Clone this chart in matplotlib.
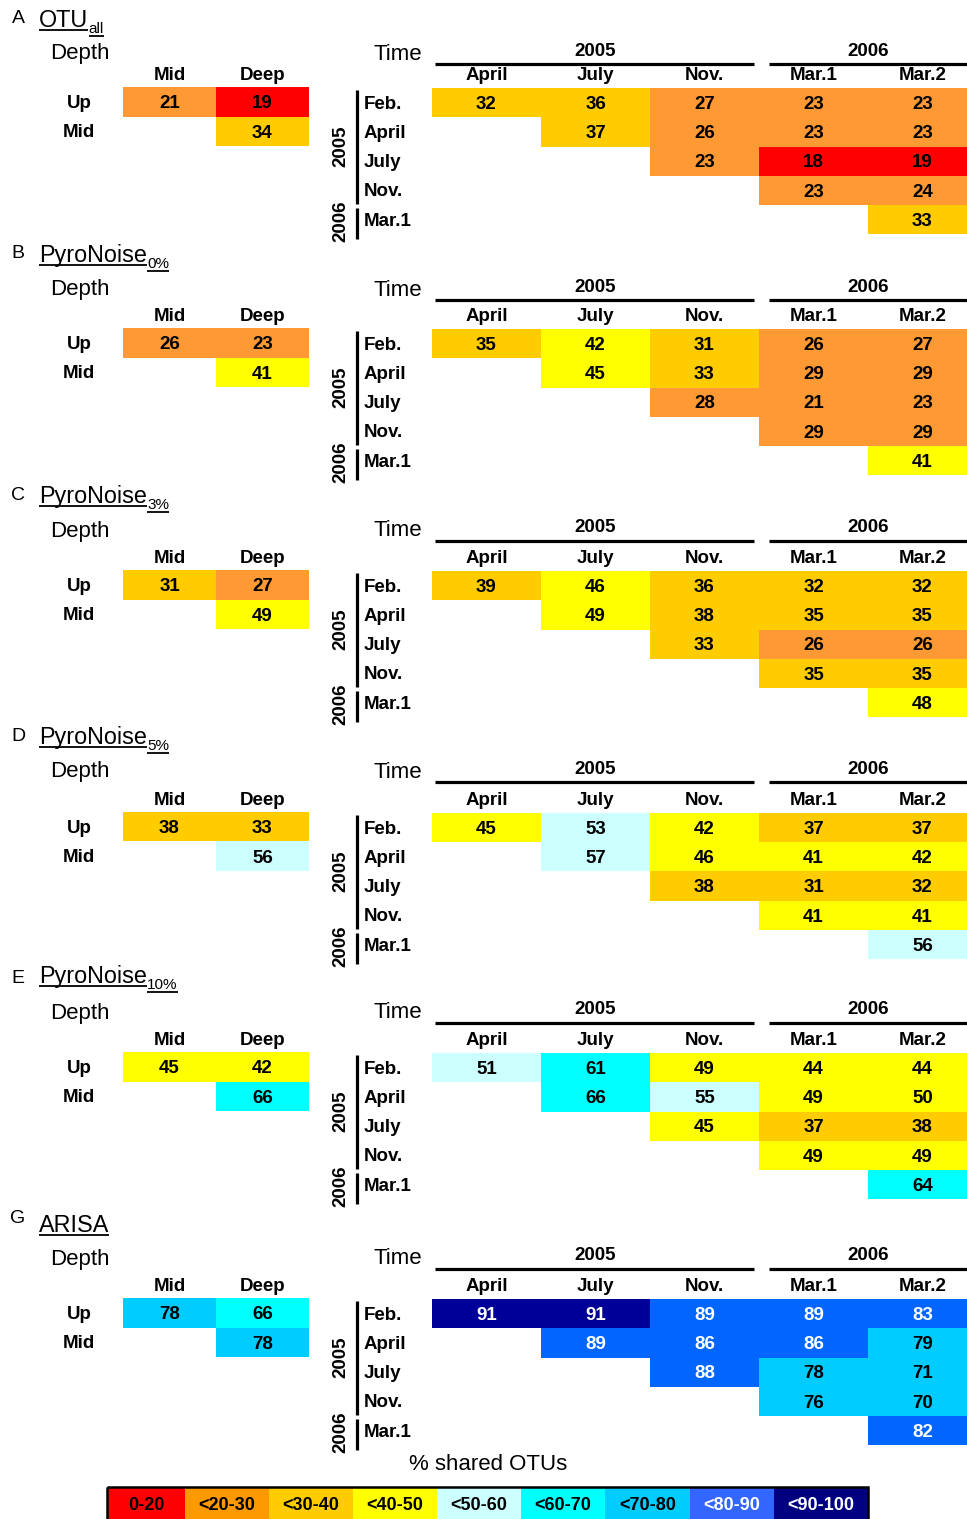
import matplotlib
matplotlib.use("Agg")
import matplotlib.pyplot as plt
from matplotlib.colors import ListedColormap, BoundaryNorm
from matplotlib.patches import Rectangle
import numpy as np

plt.rcParams['font.family'] = ['Liberation Sans', 'DejaVu Sans']

# % shared OTUs between depths (rows Up/Mid, cols Mid/Deep) and between
# sampling dates (rows Feb./April/July/Nov./Mar.1, cols April..Mar.2)
n = None
otu_all_depth = [[21, 19], [n, 34]]
otu_all_time = [[32, 36, 27, 23, 23],
                [n, 37, 26, 23, 23],
                [n, n, 23, 18, 19],
                [n, n, n, 23, 24],
                [n, n, n, n, 33]]

pn0_depth = [[26, 23], [n, 41]]
pn0_time = [[35, 42, 31, 26, 27],
            [n, 45, 33, 29, 29],
            [n, n, 28, 21, 23],
            [n, n, n, 29, 29],
            [n, n, n, n, 41]]

pn3_depth = [[31, 27], [n, 49]]
pn3_time = [[39, 46, 36, 32, 32],
            [n, 49, 38, 35, 35],
            [n, n, 33, 26, 26],
            [n, n, n, 35, 35],
            [n, n, n, n, 48]]

pn5_depth = [[38, 33], [n, 56]]
pn5_time = [[45, 53, 42, 37, 37],
            [n, 57, 46, 41, 42],
            [n, n, 38, 31, 32],
            [n, n, n, 41, 41],
            [n, n, n, n, 56]]

pn10_depth = [[45, 42], [n, 66]]
pn10_time = [[51, 61, 49, 44, 44],
             [n, 66, 55, 49, 49.6],
             [n, n, 45, 37, 38],
             [n, n, n, 49, 49],
             [n, n, n, n, 64]]

arisa_depth = [[78, 66], [n, 78]]
arisa_time = [[91, 91, 89, 89, 83],
              [n, 89, 86, 86, 79],
              [n, n, 88, 78, 71],
              [n, n, n, 76, 70],
              [n, n, n, n, 82]]

panels = [
    ("A", "OTU", "all", otu_all_depth, otu_all_time),
    ("B", "PyroNoise", "0%", pn0_depth, pn0_time),
    ("C", "PyroNoise", "3%", pn3_depth, pn3_time),
    ("D", "PyroNoise", "5%", pn5_depth, pn5_time),
    ("E", "PyroNoise", "10%", pn10_depth, pn10_time),
    ("G", "ARISA", "", arisa_depth, arisa_time),
]

depth_rows = ["Up", "Mid"]
depth_cols = ["Mid", "Deep"]
time_rows = ["Feb.", "April", "July", "Nov.", "Mar.1"]
time_cols = ["April", "July", "Nov.", "Mar.1", "Mar.2"]

bounds = [0, 20, 30, 40, 50, 60, 70, 80, 90, 100]
cell_colors = ['#ff0000', '#ff9933', '#ffcc00', '#ffff00', '#ccffff',
               '#00ffff', '#00ccff', '#0066ff', '#000099']
legend_colors = ['#ff0000', '#ff9900', '#ffcc00', '#ffff00', '#ccffff',
                 '#00ffff', '#00ccff', '#3366ff', '#000080']
legend_labels = ['0-20', '<20-30', '<30-40', '<40-50', '<50-60',
                 '<60-70', '<70-80', '<80-90', '<90-100']

cmap = ListedColormap(cell_colors)
norm = BoundaryNorm(bounds, cmap.N)

BOLD = 13.5

W, H = 967, 1519
fig = plt.figure(figsize=(W / 100, H / 100), dpi=100)
page = fig.add_axes([0, 0, 1, 1])
page.set_xlim(0, W)
page.set_ylim(H, 0)
page.axis('off')

# vertical layout of each panel (pixels from top)
title_y = [27, 262, 503, 744, 983, 1232]
letter_y = [23, 258, 500, 741, 983, 1223]
head_y = [54, 290, 531, 772, 1013, 1259]
grid_top = [88, 329, 571, 813, 1053, 1299]
ROW_T = 29.25
ROW_D = 29.5


def grid_axes(x0, x1, y0, y1, ncol, nrow):
    ax = fig.add_axes([x0 / W, 1 - y1 / H, (x1 - x0) / W, (y1 - y0) / H])
    ax.set_xlim(0, ncol)
    ax.set_ylim(nrow, 0)
    ax.axis('off')
    return ax


def draw_matrix(ax, values):
    vals = np.array(values, dtype=float)
    nr, nc = vals.shape
    ax.pcolormesh(np.arange(nc + 1), np.arange(nr + 1),
                  np.ma.masked_invalid(vals), cmap=cmap, norm=norm,
                  linewidth=0, antialiased=False)
    for r in range(nr):
        for c in range(nc):
            v = vals[r, c]
            if np.isnan(v):
                continue
            ax.text(c + 0.5, r + 0.56, f"{v:.0f}", ha='center', va='center',
                    fontsize=BOLD, fontweight='bold',
                    color='white' if v >= 80 else 'black')


renderer = fig.canvas.get_renderer()
inv = page.transData.inverted()


def underline(t, y):
    bb = t.get_window_extent(renderer=renderer)
    (x0, _), (x1, _) = inv.transform([[bb.x0, bb.y0], [bb.x1, bb.y1]])
    page.plot([x0, x1], [y, y], color='black', lw=1.3, solid_capstyle='butt')
    return x1


for i, (letter, name, sub, depth_vals, time_vals) in enumerate(panels):
    gt = grid_top[i]
    hy = head_y[i]

    # panel title
    page.text(18, letter_y[i], letter, ha='center', va='baseline', fontsize=14)
    t = page.text(39, title_y[i], name, ha='left', va='baseline', fontsize=16.8)
    x_end = underline(t, title_y[i] + 2.5)
    if sub:
        s = page.text(x_end + 0.5, title_y[i] + 6, sub, ha='left',
                      va='baseline', fontsize=11)
        underline(s, title_y[i] + 8.5)

    # depth comparison
    page.text(50, hy, "Depth", ha='left', va='center', fontsize=16)
    axd = grid_axes(123, 309, gt - 1, gt - 1 + 2 * ROW_D, 2, 2)
    draw_matrix(axd, depth_vals)
    for c, lab in enumerate(depth_cols):
        page.text(123 + (c + 0.5) * 93, gt - 12.5, lab, ha='center',
                  va='center', fontsize=BOLD, fontweight='bold')
    for r, lab in enumerate(depth_rows):
        page.text(79, gt + 0.5 + (r + 0.5) * ROW_D, lab, ha='center',
                  va='center', fontsize=BOLD, fontweight='bold')

    # time comparison
    page.text(398, hy, "Time", ha='center', va='center', fontsize=16)
    axt = grid_axes(432, 977, gt, gt + 5 * ROW_T, 5, 5)
    draw_matrix(axt, time_vals)
    page.text(595, hy - 3, "2005", ha='center', va='center', fontsize=BOLD,
              fontweight='bold')
    page.text(868, hy - 3, "2006", ha='center', va='center', fontsize=BOLD,
              fontweight='bold')
    page.plot([435, 754], [hy + 10, hy + 10], color='black', lw=2.3,
              solid_capstyle='butt')
    page.plot([769, 970], [hy + 10, hy + 10], color='black', lw=2.3,
              solid_capstyle='butt')
    for c, lab in enumerate(time_cols):
        page.text(432 + (c + 0.5) * 109, gt - 12.5, lab, ha='center',
                  va='center', fontsize=BOLD, fontweight='bold')
    for r, lab in enumerate(time_rows):
        page.text(364, gt + 1.5 + (r + 0.5) * ROW_T, lab, ha='left',
                  va='center', fontsize=BOLD, fontweight='bold')
    page.plot([357, 357], [gt + 2, gt + 4 * ROW_T - 1], color='black',
              lw=2.3, solid_capstyle='butt')
    page.plot([357, 357], [gt + 4 * ROW_T + 3, gt + 5 * ROW_T + 5],
              color='black', lw=2.3, solid_capstyle='butt')
    page.text(341, gt + 2 * ROW_T, "2005", rotation=90, ha='center',
              va='center', fontsize=BOLD, fontweight='bold')
    page.text(341, gt + 4.55 * ROW_T, "2006", rotation=90, ha='center',
              va='center', fontsize=BOLD, fontweight='bold')

# colour key
page.text(488, 1465, "% shared OTUs", ha='center', va='center', fontsize=16)
edges = [107, 185, 269, 353, 437, 521, 605, 690, 774, 868]
for k, lab in enumerate(legend_labels):
    x0, x1 = edges[k], edges[k + 1]
    page.add_patch(Rectangle((x0, 1487), x1 - x0, 40, facecolor=legend_colors[k],
                             edgecolor='none'))
    page.text((x0 + x1) / 2, 1505, lab, ha='center', va='center',
              fontsize=13, fontweight='bold',
              color='white' if k >= 7 else 'black')
page.add_patch(Rectangle((107, 1487), 868 - 107, 40, facecolor='none',
                         edgecolor='black', lw=1.8))

fig.savefig("out.png", dpi=100)
